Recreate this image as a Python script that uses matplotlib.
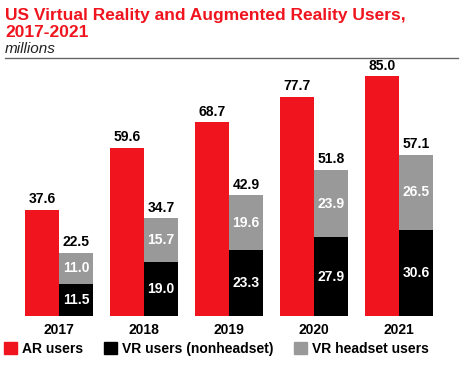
import numpy as np
import matplotlib
matplotlib.use("Agg")
import matplotlib.pyplot as plt
from matplotlib.patches import Rectangle
from matplotlib.lines import Line2D

years = ["2017", "2018", "2019", "2020", "2021"]
ar_users = [37.6, 59.6, 68.7, 77.7, 85.0]
vr_nonheadset = [11.5, 19.0, 23.3, 27.9, 30.6]
vr_headset = [11.0, 15.7, 19.6, 23.9, 26.5]
vr_total = [22.5, 34.7, 42.9, 51.8, 57.1]

RED = "#f0141e"
BLACK = "#000000"
GRAY = "#999999"

plt.rcParams["font.family"] = ["Liberation Sans", "DejaVu Sans"]

fig = plt.figure(figsize=(4.64, 3.65), dpi=100)
ax = fig.add_axes([16.5 / 464, 49 / 365, 425 / 464, 254 / 365])

x = np.arange(len(years))
w = 0.4
ax.bar(x - w / 2, ar_users, w, color=RED, linewidth=0)
ax.bar(x + w / 2, vr_nonheadset, w, color=BLACK, linewidth=0)
ax.bar(x + w / 2, vr_headset, w, bottom=vr_nonheadset, color=GRAY, linewidth=0)

lab = dict(ha="center", fontsize=10, fontweight="bold")
for i in range(len(years)):
    ax.text(x[i] - w / 2, ar_users[i] + 1.2, f"{ar_users[i]:.1f}", va="bottom", color="black", **lab)
    ax.text(x[i] + w / 2, vr_total[i] + 1.2, f"{vr_total[i]:.1f}", va="bottom", color="black", **lab)
    ax.text(x[i] + w / 2, vr_nonheadset[i] + vr_headset[i] / 2, f"{vr_headset[i]:.1f}",
            va="center", color="white", **lab)
    ax.text(x[i] + w / 2, vr_nonheadset[i] / 2, f"{vr_nonheadset[i]:.1f}",
            va="center", color="white", **lab)

ax.set_xlim(-0.5, 4.5)
ax.set_ylim(0, 90)
ax.set_xticks(x)
ax.set_xticklabels(years, fontsize=10, fontweight="bold")
ax.tick_params(axis="x", length=0, pad=5)
ax.set_yticks([])
for s in ax.spines.values():
    s.set_visible(False)

fig.text(5 / 464, 1 - 20 / 365, "US Virtual Reality and Augmented Reality Users,",
         color=RED, fontsize=12.5, fontweight="bold", va="baseline")
fig.text(5 / 464, 1 - 37 / 365, "2017-2021", color=RED, fontsize=12.5, fontweight="bold", va="baseline")
fig.text(5 / 464, 1 - 53 / 365, "millions", color="#222222", fontsize=11, style="italic", va="baseline")
fig.add_artist(Line2D([5 / 464, 458 / 464], [1 - 58 / 365, 1 - 58 / 365], color="#666666", linewidth=1))

handles = [Rectangle((0, 0), 1, 1, color=c) for c in (RED, BLACK, GRAY)]
fig.legend(handles, ["AR users", "VR users (nonheadset)", "VR headset users"],
           loc="center left", bbox_to_anchor=(4 / 464, 1 - 349 / 365), ncol=3, frameon=False,
           prop={"weight": "bold", "size": 10}, handlelength=0.9, handleheight=0.9,
           handletextpad=0.4, columnspacing=1.5, borderpad=0, borderaxespad=0)

fig.savefig("out.png", dpi=100)
